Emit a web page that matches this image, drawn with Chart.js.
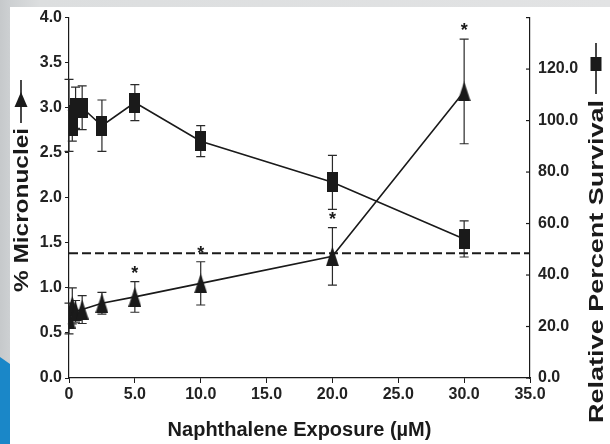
<!DOCTYPE html>
<html><head><meta charset="utf-8">
<script src="https://cdn.jsdelivr.net/npm/chart.js@4.4.1/dist/chart.umd.min.js"></script>
<style>
html,body{margin:0;padding:0;}
body{width:610px;height:444px;position:relative;overflow:hidden;background:linear-gradient(90deg,#c6c9cb 0px,#cdd0d2 10px,#dcdedf 40px,#e2e3e4 610px);}
#blue{position:absolute;left:0;top:0;width:10px;height:444px;background:#1a87c8;clip-path:polygon(0 357px,10px 364px,10px 444px,0 444px);}
#panel{position:absolute;left:10px;top:7px;width:600px;height:437px;background:#fff;}
#wrap{position:absolute;left:0;top:0;width:610px;height:444px;}
</style></head>
<body><div id="blue"></div><div id="panel"></div>
<div id="wrap"><canvas id="c" width="610" height="444"></canvas></div>
<script>
// ---- data ----
const doses = [0, 0.25, 0.5, 1, 2.5, 5, 10, 20, 30];
const micronuclei = [0.66, 0.80, 0.74, 0.76, 0.83, 0.90, 1.05, 1.35, 3.18];
const micronucleiErr = [0.17, 0.20, 0.12, 0.155, 0.12, 0.17, 0.24, 0.32, 0.58];
const survival = [102, 98, 105, 105, 98, 107, 92, 76, 54];
const survivalErr = [14, 6, 8, 8.5, 10, 7, 6, 10.5, 7];
const significant = [false, false, false, false, false, true, true, true, true];
const thresholdLevel = 1.385;
const xTicks = [0, 5, 10, 15, 20, 25, 30, 35];
const xTickLabels = ['0', '5.0', '10.0', '15.0', '20.0', '25.0', '30.0', '35.0'];
const leftTicks = [0, 0.5, 1, 1.5, 2, 2.5, 3, 3.5, 4];
const leftTickLabels = ['0.0', '0.5', '1.0', '1.5', '2.0', '2.5', '3.0', '3.5', '4.0'];
const rightTicks = [0, 20, 40, 60, 80, 100, 120, 140];
const rightTickLabels = ['0.0', '20.0', '40.0', '60.0', '80.0', '100.0', '120.0', ''];
const xTitle = 'Naphthalene Exposure (\u00b5M)';
const leftTitle = '% Micronuclei';
const rightTitle = 'Relative Percent Survival';

const INK = '#1a1a1a';
const FONT = '"Liberation Sans", Arial, sans-serif';

function makeMarker(shape, w, h) {
  const c = document.createElement('canvas');
  c.width = w; c.height = h;
  const g = c.getContext('2d');
  g.fillStyle = INK;
  if (shape === 'rect') { g.fillRect(0, 0, w, h); }
  else { g.beginPath(); g.moveTo(w / 2, 0); g.lineTo(w, h); g.lineTo(0, h); g.closePath(); g.fill(); }
  return c;
}
const triMarker = makeMarker('tri', 13, 20);
const sqMarker = makeMarker('rect', 11, 20);

const errorBars = {
  id: 'errorBars',
  beforeDatasetsDraw(chart) {
    const ctx = chart.ctx, xs = chart.scales.x;
    const sets = [[chart.scales.y, micronuclei, micronucleiErr], [chart.scales.y2, survival, survivalErr]];
    ctx.save();
    ctx.strokeStyle = '#2a2a2a'; ctx.lineWidth = 1.2;
    sets.forEach(([ys, vals, errs]) => {
      doses.forEach((d, i) => {
        const px = xs.getPixelForValue(d);
        const t = ys.getPixelForValue(vals[i] + errs[i]);
        const b = ys.getPixelForValue(vals[i] - errs[i]);
        ctx.beginPath();
        ctx.moveTo(px, t); ctx.lineTo(px, b);
        ctx.moveTo(px - 4.5, t); ctx.lineTo(px + 4.5, t);
        ctx.moveTo(px - 4.5, b); ctx.lineTo(px + 4.5, b);
        ctx.stroke();
      });
    });
    const y2 = chart.scales.y2, right = chart.chartArea.right;
    ctx.strokeStyle = INK; ctx.lineWidth = 1.2;
    rightTicks.forEach(v => {
      const py = y2.getPixelForValue(v);
      ctx.beginPath(); ctx.moveTo(right - 4, py); ctx.lineTo(right, py); ctx.stroke();
    });
    ctx.restore();
  },
  afterDatasetsDraw(chart) {
    const ctx = chart.ctx, xs = chart.scales.x, ys = chart.scales.y;
    ctx.save();
    ctx.fillStyle = INK; ctx.font = 'bold 18px ' + FONT;
    ctx.textAlign = 'center'; ctx.textBaseline = 'alphabetic';
    doses.forEach((d, i) => {
      if (!significant[i]) return;
      const px = xs.getPixelForValue(d);
      const t = ys.getPixelForValue(micronuclei[i] + micronucleiErr[i]);
      ctx.fillText('*', px, t - 3);
    });
    ctx.restore();
  },
  afterDraw(chart) {
    const ctx = chart.ctx;
    ctx.save();
    ctx.fillStyle = INK; ctx.strokeStyle = INK;
    function vtext(txt, cx, yStart, yEnd, size) {
      ctx.save();
      ctx.font = 'bold ' + size + 'px ' + FONT;
      const w = ctx.measureText(txt).width;
      ctx.translate(cx, yStart);
      ctx.rotate(-Math.PI / 2);
      ctx.scale((yStart - yEnd) / w, 1);
      ctx.textAlign = 'left'; ctx.textBaseline = 'middle';
      ctx.fillText(txt, 0, 0);
      ctx.restore();
    }
    vtext(leftTitle, 22, 292, 128, 21);
    vtext(rightTitle, 597, 423, 100, 21);
    ctx.lineWidth = 1.6;
    ctx.beginPath(); ctx.moveTo(21, 80); ctx.lineTo(21, 123); ctx.stroke();
    ctx.beginPath(); ctx.moveTo(21, 92); ctx.lineTo(27.5, 107); ctx.lineTo(14.5, 107); ctx.closePath(); ctx.fill();
    ctx.beginPath(); ctx.moveTo(596, 43); ctx.lineTo(596, 94); ctx.stroke();
    ctx.fillRect(590.5, 57, 11, 14);
    ctx.restore();
  }
};

const tickFont = { family: FONT, size: 16, weight: 'bold' };

new Chart(document.getElementById('c'), {
  type: 'line',
  data: {
    datasets: [
      {
        label: 'Threshold',
        data: [{ x: 0, y: thresholdLevel }, { x: 35, y: thresholdLevel }],
        yAxisID: 'y', borderColor: INK, borderWidth: 2, borderDash: [9, 4],
        pointRadius: 0, fill: false
      },
      {
        label: 'Relative Percent Survival',
        data: doses.map((d, i) => ({ x: d, y: survival[i] })),
        yAxisID: 'y2', borderColor: INK, borderWidth: 1.6,
        pointStyle: sqMarker, pointRadius: 6, fill: false
      },
      {
        label: '% Micronuclei',
        data: doses.map((d, i) => ({ x: d, y: micronuclei[i] })),
        yAxisID: 'y', borderColor: INK, borderWidth: 1.6,
        pointStyle: triMarker, pointRadius: 6, fill: false
      }
    ]
  },
  options: {
    responsive: false, animation: false, devicePixelRatio: 1,
    layout: { padding: { top: 17, left: 0, right: 0, bottom: 0 } },
    plugins: { legend: { display: false }, tooltip: { enabled: false } },
    scales: {
      x: {
        type: 'linear', position: 'bottom', min: 0, max: 35,
        afterBuildTicks: s => { s.ticks = xTicks.map(v => ({ value: v })); },
        afterFit: s => { s.height = 66; },
        ticks: { font: tickFont, color: '#222', padding: 2, maxRotation: 0, callback: (v, i) => xTickLabels[i] },
        grid: { drawOnChartArea: false, drawTicks: true, tickLength: 5, color: INK },
        border: { color: INK, width: 1.2 },
        title: { display: true, text: xTitle, font: { family: FONT, size: 20, weight: 'bold' }, color: INK, padding: { top: 0, bottom: 2 } }
      },
      y: {
        type: 'linear', position: 'left', min: 0, max: 4,
        afterBuildTicks: s => { s.ticks = leftTicks.map(v => ({ value: v })); },
        afterFit: s => { s.width = 69; },
        ticks: { font: tickFont, color: '#222', padding: 3, callback: (v, i) => leftTickLabels[i] },
        grid: { drawOnChartArea: false, drawTicks: true, tickLength: 4, color: INK },
        border: { color: INK, width: 1.2 }
      },
      y2: {
        type: 'linear', position: 'right', min: 0, max: 140,
        afterBuildTicks: s => { s.ticks = rightTicks.map(v => ({ value: v })); },
        afterFit: s => { s.width = 80; },
        ticks: { font: tickFont, color: '#222', padding: 8, callback: (v, i) => rightTickLabels[i] },
        grid: { drawOnChartArea: false, drawTicks: false, color: INK },
        border: { color: INK, width: 1.2 }
      }
    }
  },
  plugins: [errorBars]
});
</script>
</body></html>
